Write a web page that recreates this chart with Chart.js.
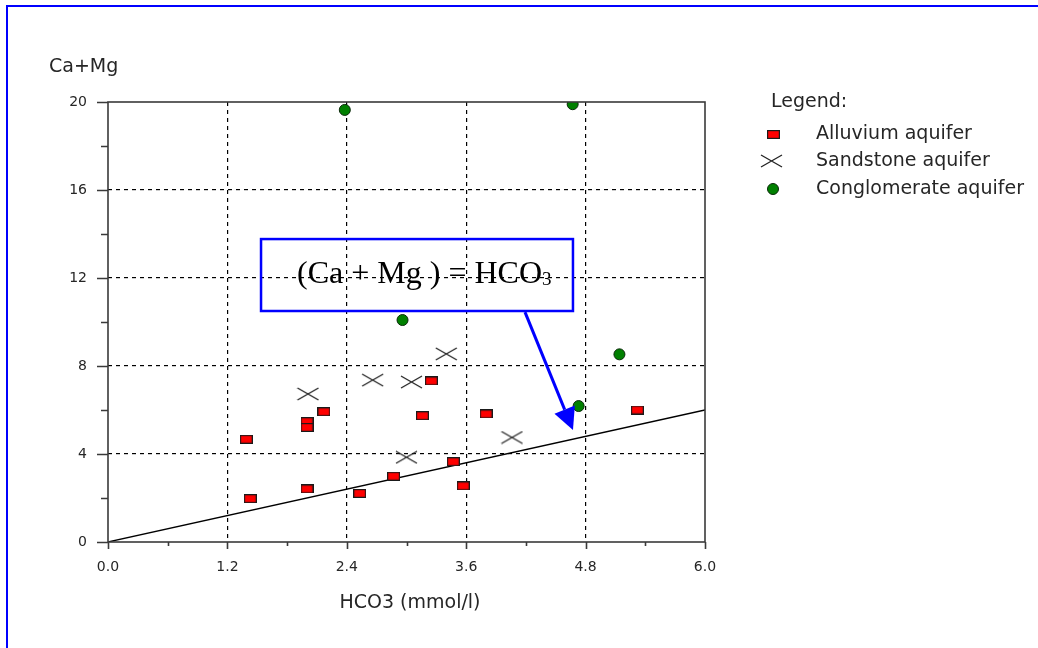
<!DOCTYPE html>
<html>
<head>
<meta charset="utf-8">
<script src="https://cdn.jsdelivr.net/npm/chart.js@4"></script>
<style>
    html, body { margin: 0; padding: 0; background: #ffffff; }
    canvas { display: block; }
</style>
</head>
<body>
<canvas id="ionChart" width="1038" height="648"></canvas>
<script>
// values (HCO3 vs Ca+Mg, mmol/l)
const alluviumX = [1.39, 1.43, 2.0, 2.0, 2.17, 2.0, 2.53, 2.87, 3.25, 3.16, 3.80, 3.47, 3.57, 5.32];
const alluviumY = [4.67, 1.97, 5.47, 5.21, 5.92, 2.41, 2.21, 2.99, 7.32, 5.74, 5.82, 3.65, 2.55, 6.0];

const sandstoneX = [2.01, 2.66, 3.05, 3.40, 3.0, 4.06];
const sandstoneY = [6.73, 7.36, 7.27, 8.55, 3.85, 4.75];

const conglomerateX = [2.38, 4.67, 2.96, 5.14, 4.73];
const conglomerateY = [19.64, 19.9, 10.09, 8.53, 6.18];

// the 1:1 line (Ca+Mg) = HCO3
const equalLineX = [0, 6];
const equalLineY = [0, 6];

const seriesNames = ["Alluvium aquifer", "Sandstone aquifer", "Conglomerate aquifer"];
const xTickLabels = ["0.0", "1.2", "2.4", "3.6", "4.8", "6.0"];
const yTickLabels = ["0", "4", "8", "12", "16", "20"];

const toPoints = (xs, ys) => xs.map((x, i) => ({ x, y: ys[i] }));

function makeRectMarker() {
    const c = document.createElement("canvas");
    c.width = 13;
    c.height = 9;
    const g = c.getContext("2d");
    g.fillStyle = "#ff0000";
    g.fillRect(1, 1, 11, 7);
    g.strokeStyle = "#1a1a1a";
    g.lineWidth = 1.2;
    g.strokeRect(0.6, 0.6, 11.8, 7.8);
    return c;
}

function makeCrossMarker() {
    const c = document.createElement("canvas");
    c.width = 23;
    c.height = 14;
    const g = c.getContext("2d");
    g.strokeStyle = "#222222";
    g.lineWidth = 1.3;
    g.beginPath();
    g.moveTo(1, 1); g.lineTo(22, 13);
    g.moveTo(1, 13); g.lineTo(22, 1);
    g.stroke();
    return c;
}

const rectMarker = makeRectMarker();
const crossMarker = makeCrossMarker();

const isMajor = (v, step) => Math.abs(v / step - Math.round(v / step)) < 1e-6;

const decorPlugin = {
    id: "decor",
    beforeDraw(chart) {
        const ctx = chart.ctx;
        ctx.save();
        ctx.fillStyle = "#ffffff";
        ctx.fillRect(0, 0, chart.width, chart.height);
        ctx.fillStyle = "#0000ff";
        ctx.fillRect(6, 5, chart.width - 6, 2);
        ctx.fillRect(6, 5, 2, chart.height - 5);
        ctx.restore();
    },
    afterDatasetsDraw(chart) {
        const ctx = chart.ctx;
        const xs = chart.scales.x;
        const ys = chart.scales.y;
        const a = chart.chartArea;

        ctx.save();
        // frame and tick marks
        ctx.strokeStyle = "#3a3a3a";
        ctx.lineWidth = 1.6;
        ctx.strokeRect(a.left, a.top, a.right - a.left, a.bottom - a.top);
        ctx.beginPath();
        ys.ticks.forEach(t => {
            const py = Math.round(ys.getPixelForValue(t.value)) + 0.5;
            const len = isMajor(t.value, 4) ? 11 : 7;
            ctx.moveTo(a.left - len, py);
            ctx.lineTo(a.left, py);
        });
        xs.ticks.forEach(t => {
            const px = Math.round(xs.getPixelForValue(t.value)) + 0.5;
            const len = isMajor(t.value, 1.2) ? 7 : 4;
            ctx.moveTo(px, a.bottom);
            ctx.lineTo(px, a.bottom + len);
        });
        ctx.stroke();

        // axis titles
        ctx.fillStyle = "#262626";
        ctx.font = "19px 'DejaVu Sans'";
        ctx.textBaseline = "middle";
        ctx.textAlign = "left";
        ctx.fillText("Ca+Mg", 49, 67);
        ctx.textAlign = "center";
        ctx.fillText("HCO3 (mmol/l)", 410, 603);

        // legend
        ctx.textAlign = "left";
        ctx.fillText("Legend:", 771, 102);
        const rows = [134, 161, 189];
        ctx.drawImage(rectMarker, 767, rows[0] - 4);
        ctx.drawImage(crossMarker, 760, rows[1] - 7);
        ctx.beginPath();
        ctx.arc(773, rows[2], 5.5, 0, Math.PI * 2);
        ctx.fillStyle = "#008000";
        ctx.fill();
        ctx.strokeStyle = "#0a2a0a";
        ctx.lineWidth = 1;
        ctx.stroke();
        ctx.fillStyle = "#262626";
        seriesNames.forEach((name, i) => ctx.fillText(name, 816, rows[i]));

        // annotation box with the equation
        const bx1 = xs.getPixelForValue(1.538), bx2 = xs.getPixelForValue(4.673);
        const by1 = ys.getPixelForValue(13.77), by2 = ys.getPixelForValue(10.5);
        ctx.strokeStyle = "#0000ff";
        ctx.lineWidth = 2.5;
        ctx.strokeRect(bx1, by1, bx2 - bx1, by2 - by1);

        ctx.fillStyle = "#000000";
        ctx.textBaseline = "alphabetic";
        ctx.font = "32px 'Liberation Serif'";
        const main = "(Ca + Mg ) = HCO";
        const tx = bx1 + 36;
        ctx.fillText(main, tx, by1 + 44);
        const w = ctx.measureText(main).width;
        ctx.font = "19px 'Liberation Serif'";
        ctx.fillText("3", tx + w, by1 + 46);

        // arrow from the box to the line
        const sx = xs.getPixelForValue(4.191), sy = ys.getPixelForValue(10.45);
        const ex = xs.getPixelForValue(4.673), ey = ys.getPixelForValue(5.09);
        const ang = Math.atan2(ey - sy, ex - sx);
        const head = 22, half = 11;
        const hx = ex - head * Math.cos(ang), hy = ey - head * Math.sin(ang);
        ctx.strokeStyle = "#0000ff";
        ctx.lineWidth = 3;
        ctx.beginPath();
        ctx.moveTo(sx, sy);
        ctx.lineTo(hx, hy);
        ctx.stroke();
        ctx.fillStyle = "#0000ff";
        ctx.beginPath();
        ctx.moveTo(ex, ey);
        ctx.lineTo(hx + half * Math.sin(ang), hy - half * Math.cos(ang));
        ctx.lineTo(hx - half * Math.sin(ang), hy + half * Math.cos(ang));
        ctx.closePath();
        ctx.fill();
        ctx.restore();
    }
};

Chart.defaults.font.family = "'DejaVu Sans'";

const chart = new Chart(document.getElementById("ionChart"), {
    type: "scatter",
    data: {
        datasets: [{
            label: seriesNames[0],
            data: toPoints(alluviumX, alluviumY),
            pointStyle: rectMarker,
            pointRadius: 6
        }, {
            label: seriesNames[1],
            data: toPoints(sandstoneX, sandstoneY),
            pointStyle: crossMarker,
            pointRadius: 10
        }, {
            label: seriesNames[2],
            data: toPoints(conglomerateX, conglomerateY),
            pointStyle: "circle",
            pointRadius: 5.5,
            backgroundColor: "#008000",
            borderColor: "#0a2a0a",
            borderWidth: 1
        }, {
            label: "1:1",
            data: toPoints(equalLineX, equalLineY),
            showLine: true,
            borderColor: "#000000",
            borderWidth: 1.3,
            pointRadius: 0
        }]
    },
    options: {
        responsive: false,
        animation: false,
        devicePixelRatio: 1,
        layout: { padding: { left: 0, top: 102, right: 333, bottom: 0 } },
        plugins: {
            legend: { display: false },
            tooltip: { enabled: false }
        },
        scales: {
            x: {
                type: "linear",
                min: 0,
                max: 6,
                afterFit: scale => { scale.height = 106; },
                border: { display: false, dash: [4, 4] },
                grid: {
                    drawTicks: false,
                    lineWidth: 1.2,
                    color: c => (c.tick && isMajor(c.tick.value, 1.2) && c.tick.value > 0 && c.tick.value < 6) ? "#000000" : "transparent"
                },
                ticks: {
                    stepSize: 0.6,
                    autoSkip: false,
                    maxRotation: 0,
                    padding: 17,
                    color: "#262626",
                    font: { size: 14 },
                    callback: v => isMajor(v, 1.2) ? xTickLabels[Math.round(v / 1.2)] : ""
                }
            },
            y: {
                type: "linear",
                min: 0,
                max: 20,
                afterFit: scale => { scale.width = 108; },
                border: { display: false, dash: [4, 4] },
                grid: {
                    drawTicks: false,
                    lineWidth: 1.2,
                    color: c => (c.tick && isMajor(c.tick.value, 4) && c.tick.value > 0 && c.tick.value < 20) ? "#000000" : "transparent"
                },
                ticks: {
                    stepSize: 2,
                    autoSkip: false,
                    padding: 21,
                    color: "#262626",
                    font: { size: 14 },
                    callback: v => isMajor(v, 4) ? yTickLabels[Math.round(v / 4)] : ""
                }
            }
        }
    },
    plugins: [decorPlugin]
});
</script>
</body>
</html>
